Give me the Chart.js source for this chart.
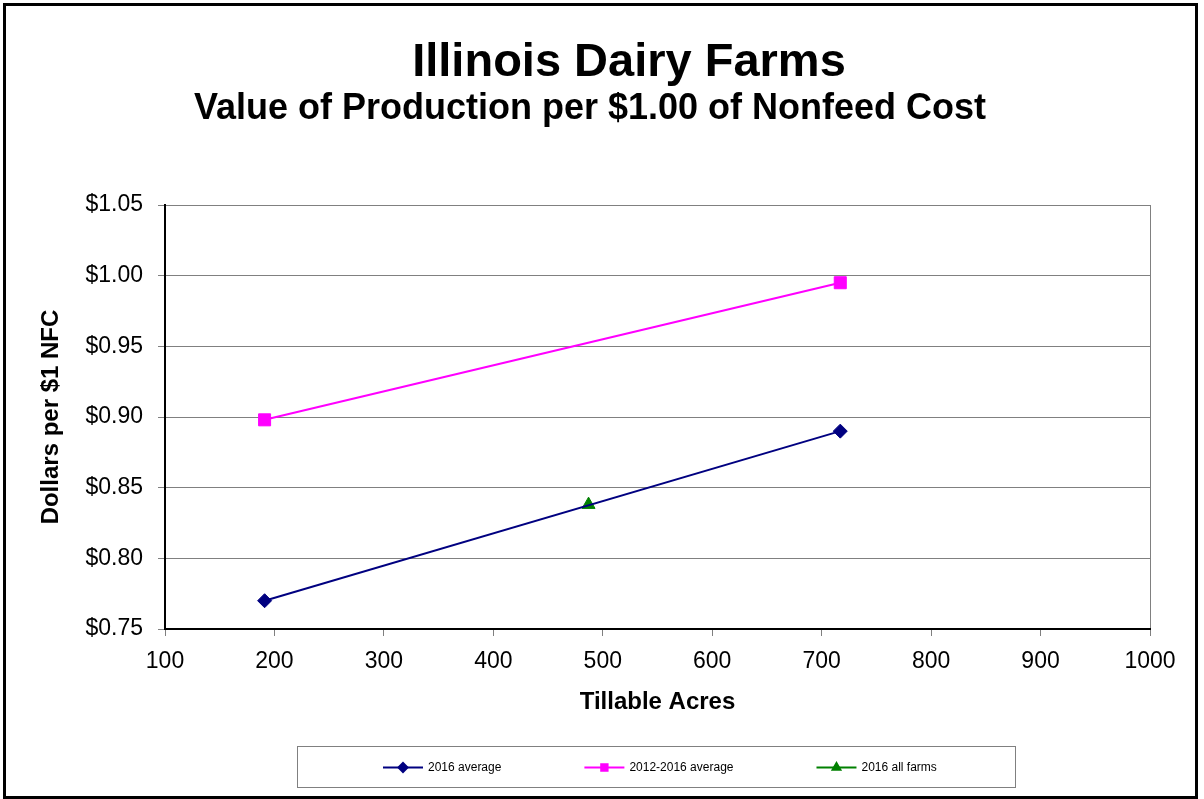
<!DOCTYPE html>
<html>
<head>
<meta charset="utf-8">
<script src="https://cdn.jsdelivr.net/npm/chart.js@4.4.1/dist/chart.umd.min.js"></script>
<style>
  html, body { margin: 0; padding: 0; background: #fff; }
  #wrap { width: 1204px; height: 799px; }
</style>
</head>
<body>
<div id="wrap"><canvas id="dairyChart" width="1204" height="799"></canvas></div>
<script>
// values
const seriesNames = ['2016 average', '2012-2016 average', '2016 all farms'];
const acres2016 = [191, 717];
const value2016 = [0.770, 0.890];
const acresAvg = [191, 717];
const valueAvg = [0.898, 0.995];
const acresAll = [487];
const valueAll = [0.838];
const xTicks = [100, 200, 300, 400, 500, 600, 700, 800, 900, 1000];
const yTicks = [0.75, 0.80, 0.85, 0.90, 0.95, 1.00, 1.05];

const colors = ['#000080', '#FF00FF', '#008000'];
const styles = ['rectRot', 'rect', 'triangle'];
const radii = [7, 8.5, 7.5];
const FONT = 'Arial, "Liberation Sans", sans-serif';

function toPoints(xs, ys) {
  return xs.map((x, i) => ({ x: x, y: ys[i] }));
}

const frame = {
  id: 'frame',
  beforeDraw(chart) {
    const ctx = chart.ctx;
    const a = chart.chartArea;
    ctx.save();
    ctx.fillStyle = '#fff';
    ctx.fillRect(0, 0, chart.width, chart.height);
    ctx.strokeStyle = '#000';
    ctx.lineWidth = 3;
    ctx.strokeRect(4.5, 4.5, 1192, 793);
    // top/right plot edges are grey, left/bottom come from the axes
    ctx.strokeStyle = '#808080';
    ctx.lineWidth = 1;
    ctx.strokeRect(a.left + 0.5, a.top + 0.5, a.right - a.left, a.bottom - a.top);
    ctx.restore();
  },
  afterDraw(chart) {
    const ctx = chart.ctx;
    ctx.save();
    ctx.fillStyle = '#000';
    ctx.textAlign = 'center';
    ctx.textBaseline = 'alphabetic';
    ctx.font = 'bold 47px ' + FONT;
    ctx.fillText('Illinois Dairy Farms', 629, 76);
    ctx.font = 'bold 36px ' + FONT;
    ctx.fillText('Value of Production per $1.00 of Nonfeed Cost', 590, 119);

    // legend box
    const box = { left: 297, top: 746, right: 1015, bottom: 787 };
    ctx.strokeStyle = '#808080';
    ctx.lineWidth = 1;
    ctx.strokeRect(box.left + 0.5, box.top + 0.5, box.right - box.left, box.bottom - box.top);

    ctx.font = '12px ' + FONT;
    ctx.textAlign = 'left';
    ctx.textBaseline = 'middle';
    const lineLen = 40, gap = 83, textPad = 5;
    const widths = seriesNames.map(n => lineLen + textPad + ctx.measureText(n).width);
    let x = 383;
    const y = (box.top + box.bottom) / 2 + 1;
    seriesNames.forEach((name, i) => {
      ctx.strokeStyle = colors[i];
      ctx.lineWidth = 2;
      ctx.beginPath();
      ctx.moveTo(x, y);
      ctx.lineTo(x + lineLen, y);
      ctx.stroke();
      ctx.fillStyle = colors[i];
      Chart.helpers.drawPoint(ctx, { pointStyle: styles[i], radius: 4.5, rotation: 0, borderWidth: 1 }, x + lineLen / 2, y);
      ctx.fillStyle = '#000';
      ctx.fillText(name, x + lineLen + textPad, y);
      x += widths[i] + gap;
    });
    ctx.restore();
  }
};

const datasets = [
  { label: seriesNames[0], data: toPoints(acres2016, value2016) },
  { label: seriesNames[1], data: toPoints(acresAvg, valueAvg) },
  { label: seriesNames[2], data: toPoints(acresAll, valueAll) }
].map((d, i) => Object.assign(d, {
  borderColor: colors[i],
  backgroundColor: colors[i],
  borderWidth: 2,
  pointStyle: styles[i],
  pointRadius: radii[i],
  pointBorderWidth: 1,
  showLine: true,
  tension: 0
}));

new Chart(document.getElementById('dairyChart'), {
  type: 'scatter',
  data: { datasets: datasets },
  plugins: [frame],
  options: {
    responsive: false,
    animation: false,
    layout: { padding: { top: 205, right: 54, left: 37, bottom: 82 } },
    plugins: {
      legend: { display: false },
      tooltip: { enabled: false }
    },
    scales: {
      x: {
        type: 'linear',
        min: 100,
        max: 1000,
        afterBuildTicks: s => { s.ticks = xTicks.map(v => ({ value: v })); },
        afterFit: s => { s.height = 88; },
        grid: { drawOnChartArea: false, color: '#808080', tickLength: 7 },
        border: { color: '#000', width: 2 },
        ticks: {
          color: '#000',
          padding: 12,
          maxRotation: 0,
          font: { family: FONT, size: 23 },
          callback: v => String(v)
        },
        title: {
          display: true,
          text: 'Tillable Acres',
          color: '#000',
          padding: 0,
          font: { family: FONT, size: 24, weight: 'bold' }
        }
      },
      y: {
        min: 0.75,
        max: 1.05,
        afterBuildTicks: s => { s.ticks = yTicks.map(v => ({ value: v })); },
        afterFit: s => { s.width = 128; },
        grid: { color: '#808080', tickLength: 7 },
        border: { color: '#000', width: 2 },
        ticks: {
          color: '#000',
          padding: 15,
          font: { family: FONT, size: 23 },
          callback: v => '$' + Number(v).toFixed(2)
        },
        title: {
          display: true,
          text: 'Dollars per $1 NFC',
          color: '#000',
          padding: 0,
          font: { family: FONT, size: 24, weight: 'bold' }
        }
      }
    }
  }
});
</script>
</body>
</html>
